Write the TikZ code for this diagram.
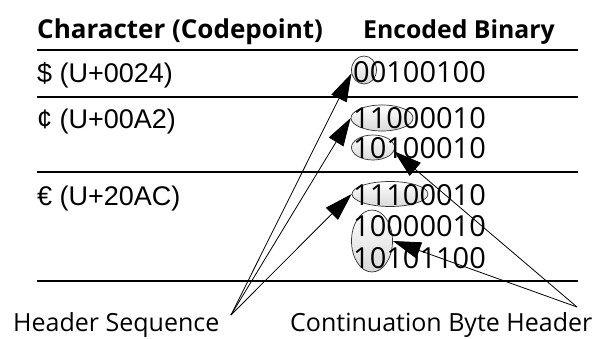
\documentclass[tikz,border=0pt]{standalone}
\usepackage{fontspec}
\setmainfont{Liberation Sans}
\newfontfamily\headfont{Open Sans}
\newfontfamily\binfont{Open Sans}
\newfontfamily\labfont{Open Sans}
\usetikzlibrary{arrows.meta,shapes.geometric}
\tikzset{
  rule/.style={line width=2.6pt},
  headtxt/.style={anchor=base west,inner sep=0pt,font=\headfont\bfseries\fontsize{26}{30}\selectfont},
  rowtxt/.style={anchor=base west,inner sep=0pt,font=\fontsize{27}{30}\selectfont},
  bintxt/.style={anchor=base west,inner sep=0pt,font=\binfont\fontsize{29}{32}\selectfont},
  labtxt/.style={anchor=base west,inner sep=0pt,font=\labfont\fontsize{25}{28}\selectfont},
  hl/.style={ellipse,draw=black!80,line width=0.7pt,inner sep=0pt,top color=white,bottom color=black!15},
  pointer/.style={line width=0.8pt,-{Triangle[length=28pt,width=17pt]}}
}
\begin{document}
\begin{tikzpicture}[x=1pt,y=-1pt]
\useasboundingbox (0,0) rectangle (595,338);
% rules
\draw[rule] (37,50) -- (578,50);
\draw[rule] (37,97) -- (578,97);
\draw[rule] (37,172) -- (578,172);
\draw[rule] (37,281) -- (578,281);
% highlights
\node[hl,minimum width=25pt,minimum height=28pt] (e1) at (364,70) {};
\node[hl,minimum width=62pt,minimum height=26pt] (e2) at (382,118) {};
\node[hl,minimum width=43pt,minimum height=25pt] (e3) at (373,147.5) {};
\node[hl,minimum width=76pt,minimum height=25pt] (e4) at (390,194) {};
\node[hl,minimum width=41pt,minimum height=62pt] (e5) at (372,241) {};
% texts
\node[headtxt] (h1) at (37,38) {Character (Codepoint)};
\node[headtxt,font=\headfont\bfseries\fontsize{24.8}{30}\selectfont] (h2) at (363,38) {Encoded Binary};
\node[rowtxt] (r1) at (37,82) {\$ (U+0024)};
\node[rowtxt] (r2) at (37,128) {¢ (U+00A2)};
\node[rowtxt] (r3) at (37,205) {€ (U+20AC)};
\node[bintxt] (b1) at (353,82) {00100100};
\node[bintxt] (b2) at (353,128) {11000010};
\node[bintxt] (b3) at (353,158) {10100010};
\node[bintxt] (b4) at (353,205) {11100010};
\node[bintxt] (b5) at (353,236.5) {10000010};
\node[bintxt] (b6) at (353,268) {10101100};
\node[labtxt] (l1) at (13,331) {Header Sequence};
\node[labtxt] (l2) at (290,331) {Continuation Byte Header};
\coordinate (hs) at (231,315);
\coordinate (cb) at (577,307);
% pointers
\draw[pointer] (hs) -- (e1.195);
\draw[pointer] (hs) -- (e2.west);
\draw[pointer] (hs) -- (e4.west);
\draw[pointer] (cb) -- (e3.-10);
\draw[pointer] (cb) -- (e5.east);
\end{tikzpicture}
\end{document}
